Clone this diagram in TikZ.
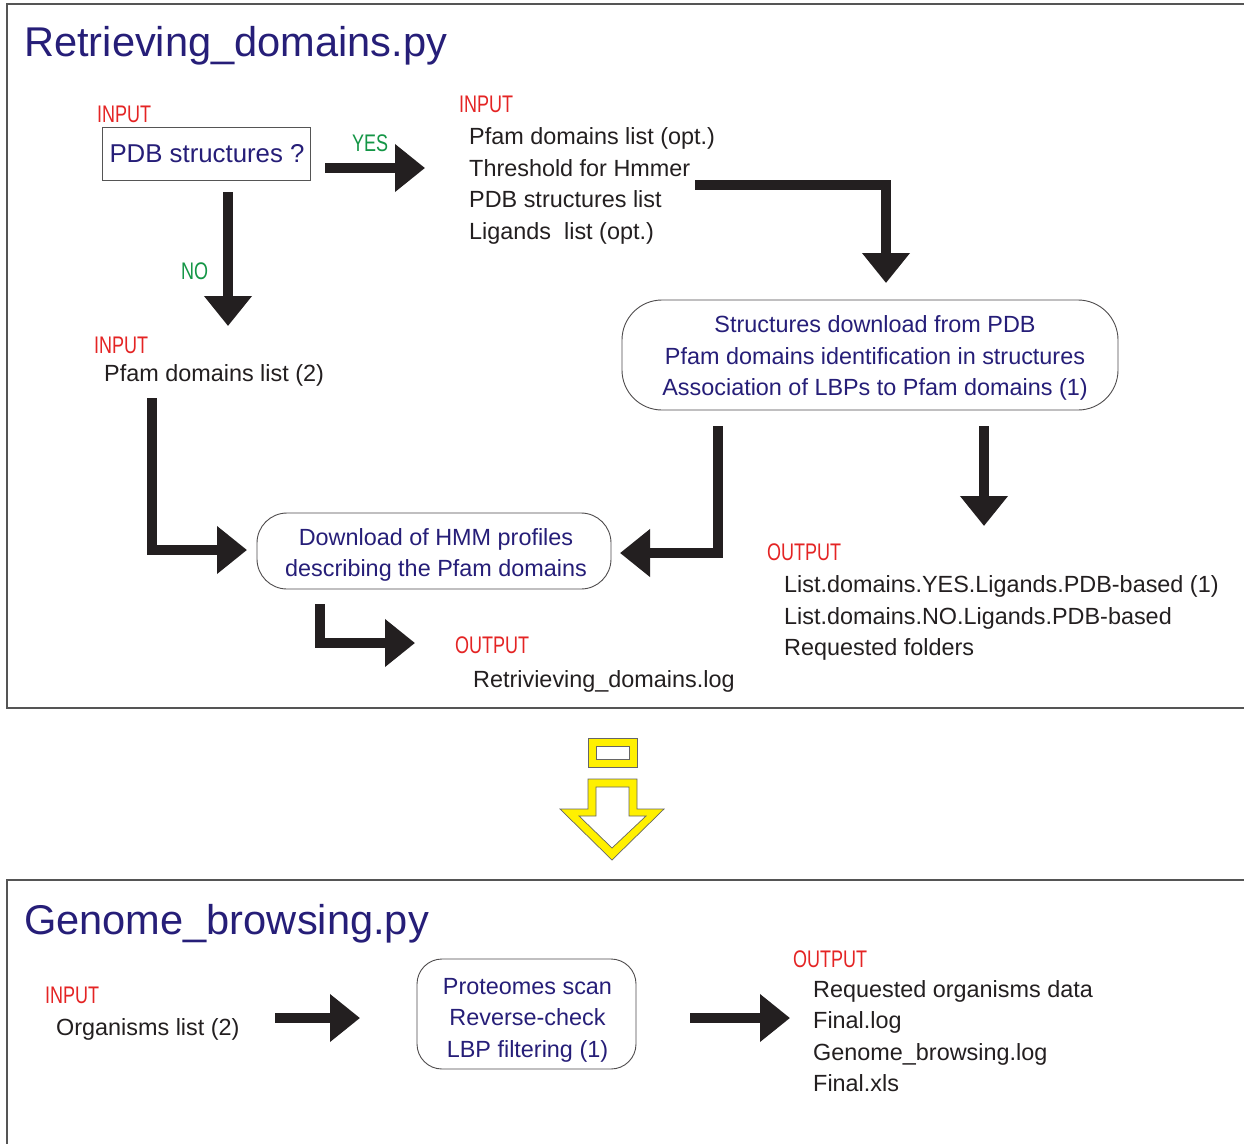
\documentclass[tikz,border=0pt]{standalone}
\usepackage{fontspec}
\setmainfont{Liberation Sans}
\newfontfamily\condfont[FakeStretch=0.75]{Liberation Sans}
\usetikzlibrary{arrows.meta}
\definecolor{navy}{RGB}{38,30,120}
\definecolor{ink}{RGB}{35,31,32}
\definecolor{redlab}{RGB}{228,36,36}
\definecolor{greenlab}{RGB}{20,150,70}
\definecolor{framec}{RGB}{85,85,85}
\definecolor{yel}{RGB}{255,240,0}
\begin{document}
\begin{tikzpicture}[x=1pt,y=-1pt,
  bigarrow/.style={draw=ink, line width=10pt, line join=miter, -{Triangle[width=46pt,length=30pt]}},
  titletext/.style={anchor=base west, inner sep=0pt, text=navy, font=\fontsize{41.6}{41.6}\selectfont},
  lab/.style={anchor=base west, inner sep=0pt, font=\condfont\fontsize{24}{24}\selectfont},
  inlab/.style={lab, text=redlab},
  yn/.style={lab, text=greenlab},
  body/.style={anchor=west, inner sep=0pt, text=ink, align=left, font=\fontsize{23.4}{31.4}\selectfont},
  procbox/.style={draw=ink!80, line width=0.9pt, rounded corners=#1, inner sep=0pt},
  boxtext/.style={text=navy, align=center, font=\fontsize{23.4}{31.4}\selectfont, inner sep=0pt},
  framel/.style={draw=framec, line width=1.3pt}
]
\useasboundingbox (0,0) rectangle (1244,1144);
\fill[white] (0,0) rectangle (1244,1144);

% frames
\draw[framel] (1244,4) -- (7,4) -- (7,708) -- (1244,708);
\draw[framel] (1244,880) -- (7,880) -- (7,1144);

% titles
\node[titletext] (t1) at (24,56) {Retrieving\_domains.py};
\node[titletext] (t2) at (24,934) {Genome\_browsing.py};

% top part
\node[inlab] (in1) at (97,122) {INPUT};
\node[draw=framec, line width=0.9pt, minimum width=208pt, minimum height=53pt, inner sep=0pt, text=navy, font=\fontsize{25.8}{25.8}\selectfont] (pdb) at (206,153.5) {\hspace{2pt}PDB structures ?};
\node[yn] (yes) at (352,151) {YES};
\node[yn] (no) at (181,279) {NO};
\node[inlab] (in2) at (459,112) {INPUT};
\node[body] (plist) at (469,186) {Pfam domains list (opt.)\\Threshold for Hmmer\\PDB structures list\\Ligands\ \ list (opt.)};
\node[inlab] (in3) at (94,353) {INPUT};
\node[body] (pfam2) at (104,375) {Pfam domains list (2)};

\node[procbox=40pt, minimum width=496pt, minimum height=110pt] (box1) at (870,355) {};
\node[boxtext] (box1t) at (875,358) {Structures download from PDB\\Pfam domains identification in structures\\Association of LBPs to Pfam domains (1)};
\node[procbox=30pt, minimum width=354pt, minimum height=76pt] (box2) at (434,551) {};
\node[boxtext] (box2t) at (436,555) {Download of HMM profiles\\describing the Pfam domains};

\node[inlab] (out1) at (767,560) {OUTPUT};
\node[body] (olist) at (784,618) {List.domains.YES.Ligands.PDB-based (1)\\List.domains.NO.Ligands.PDB-based\\Requested folders};
\node[inlab] (out2) at (455,653) {OUTPUT};
\node[body] (olog) at (473,681) {Retrivieving\_domains.log};

% arrow coordinates
\coordinate (a1s) at (325,168); \coordinate (a1e) at (425,168);
\coordinate (a2s) at (228,192); \coordinate (a2e) at (228,326);
\coordinate (a3s) at (695,185); \coordinate (a3c) at (886,185); \coordinate (a3e) at (886,283);
\coordinate (a4s) at (152,398); \coordinate (a4c) at (152,550); \coordinate (a4e) at (247,550);
\coordinate (a5s) at (718,426); \coordinate (a5c) at (718,553); \coordinate (a5e) at (620,553);
\coordinate (a6s) at (984,426); \coordinate (a6e) at (984,526);
\coordinate (a7s) at (320,604); \coordinate (a7c) at (320,643); \coordinate (a7e) at (415,643);
\coordinate (a8s) at (275,1018); \coordinate (a8e) at (360,1018);
\coordinate (a9s) at (690,1018); \coordinate (a9e) at (790,1018);

\draw[bigarrow] (a1s) -- (a1e);
\draw[bigarrow] (a2s) -- (a2e);
\draw[bigarrow] (a3s) -- (a3c) -- (a3e);
\draw[bigarrow] (a4s) -- (a4c) -- (a4e);
\draw[bigarrow] (a5s) -- (a5c) -- (a5e);
\draw[bigarrow] (a6s) -- (a6e);
\draw[bigarrow] (a7s) -- (a7c) -- (a7e);

% yellow arrow
\draw[fill=yel, draw=gray!80!black, line width=0.7pt, even odd rule]
  (588,738) rectangle (637,767) (596,746) rectangle (629,759);
\draw[fill=yel, draw=gray!80!black, line width=0.7pt, even odd rule]
  (588,779) -- (637,779) -- (637,809) -- (664,809) -- (612,860) -- (560,809) -- (588,809) -- cycle
  (596,787) -- (629,787) -- (629,816) -- (646,816) -- (612,848) -- (579,816) -- (596,816) -- cycle;

% bottom part
\node[inlab] (in4) at (45,1003) {INPUT};
\node[body] (org) at (56,1029) {Organisms list (2)};
\node[procbox=25pt, minimum width=219pt, minimum height=110pt] (box3) at (526.5,1014) {};
\node[boxtext] (box3t) at (527.5,1020) {Proteomes scan\\Reverse-check\\LBP filtering (1)};
\node[inlab] (out3) at (793,967) {OUTPUT};
\node[body] (glist) at (813,1036) {Requested organisms data\\Final.log\\Genome\_browsing.log\\Final.xls};

\draw[bigarrow] (a8s) -- (a8e);
\draw[bigarrow] (a9s) -- (a9e);
\end{tikzpicture}
\end{document}
